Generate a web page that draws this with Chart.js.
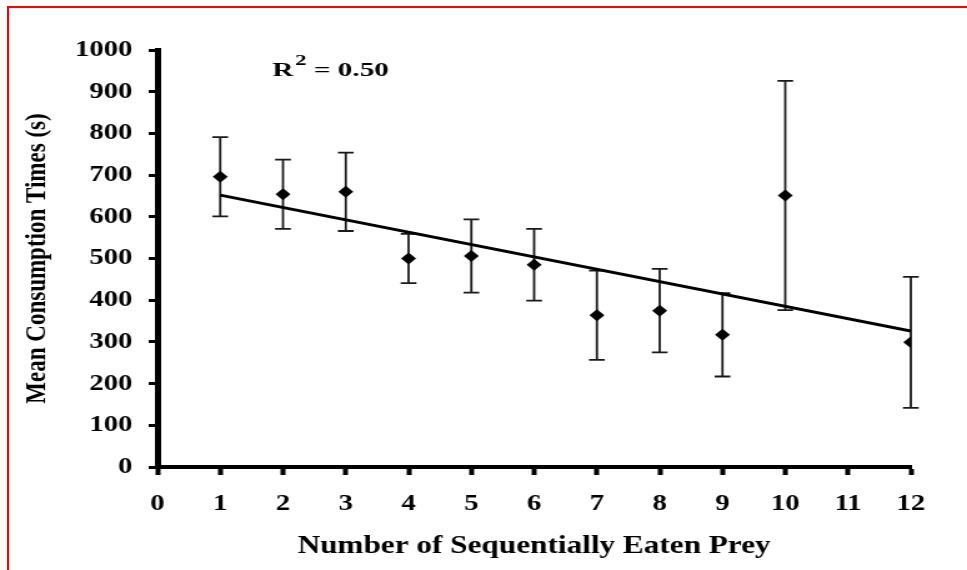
<!DOCTYPE html>
<html>
<head>
<meta charset="utf-8">
<script src="https://cdn.jsdelivr.net/npm/chart.js@4.4.1/dist/chart.umd.min.js"></script>
<style>
  html, body { margin: 0; padding: 0; background: #fff; overflow: hidden; }
  /* the source figure is stretched sideways, so the canvas is too */
  #wrap { position: absolute; left: 0; top: 0; width: 774px; height: 570px; transform-origin: 0 0; transform: scaleX(1.2494); }
  #frame { position: absolute; left: 7px; top: 6px; width: 1000px; height: 600px; border-left: 2px solid #ff0000; border-top: 2px solid #ff0000; pointer-events: none; z-index: 2; }
</style>
</head>
<body>
<div id="wrap"><canvas id="chart" width="774" height="570"></canvas></div>
<div id="frame"></div>
<script>
  // prey number (x), mean consumption time and error half-length (s)
  const preyNumber = [1, 2, 3, 4, 5, 6, 7, 8, 9, 10, 12];
  const meanTime   = [696, 654, 660, 500, 506, 485, 364, 375, 317, 651, 299];
  const errTime    = [95, 83, 94, 59, 88, 86, 107, 100, 100, 275, 157];

  // fitted regression line, end points
  const trendX = [1, 12];
  const trendY = [652, 326];
  const rSquared = '0.50';

  const xTicks = [0, 1, 2, 3, 4, 5, 6, 7, 8, 9, 10, 11, 12];
  const yTicks = [0, 100, 200, 300, 400, 500, 600, 700, 800, 900, 1000];

  const serif = '"Liberation Serif", "Times New Roman", Times, serif';

  const errorBars = {
    id: 'errorBars',
    beforeDatasetsDraw(chart) {
      const { ctx, scales: { x, y } } = chart;
      const cap = 6.3;
      ctx.save();
      ctx.strokeStyle = '#1a1a1a';
      ctx.lineWidth = 1.8;
      preyNumber.forEach((n, i) => {
        const px = x.getPixelForValue(n);
        const top = y.getPixelForValue(meanTime[i] + errTime[i]);
        const bot = y.getPixelForValue(meanTime[i] - errTime[i]);
        ctx.beginPath();
        ctx.moveTo(px, top); ctx.lineTo(px, bot);
        ctx.moveTo(px - cap, top); ctx.lineTo(px + cap, top);
        ctx.moveTo(px - cap, bot); ctx.lineTo(px + cap, bot);
        ctx.stroke();
      });
      ctx.restore();
    }
  };

  const r2Label = {
    id: 'r2Label',
    afterDraw(chart) {
      const { ctx, chartArea } = chart;
      ctx.save();
      ctx.translate(chartArea.left + 92, chartArea.top + 26);
      ctx.scale(1.3, 1);
      ctx.fillStyle = '#000';
      ctx.textAlign = 'left';
      ctx.textBaseline = 'alphabetic';
      ctx.font = 'bold 18px ' + serif;
      ctx.fillText('R', 0, 0);
      let w = ctx.measureText('R').width + 1;
      ctx.font = 'bold 14px ' + serif;
      ctx.fillText('2', w, -11);
      w += ctx.measureText('2').width;
      ctx.font = 'bold 18px ' + serif;
      ctx.fillText(' = ' + rSquared, w, 0);
      ctx.restore();
    }
  };

  const plain = v => String(v);

  new Chart(document.getElementById('chart'), {
    type: 'scatter',
    data: {
      datasets: [
        {
          label: 'Mean',
          data: preyNumber.map((n, i) => ({ x: n, y: meanTime[i] })),
          pointStyle: 'rectRot',
          pointRadius: 6,
          pointHoverRadius: 6,
          backgroundColor: '#000',
          borderColor: '#000',
          borderWidth: 0
        },
        {
          type: 'line',
          label: 'Trend',
          data: trendX.map((n, i) => ({ x: n, y: trendY[i] })),
          borderColor: '#000',
          borderWidth: 3,
          pointRadius: 0,
          fill: false,
          tension: 0
        }
      ]
    },
    options: {
      responsive: false,
      animation: false,
      devicePixelRatio: 1,
      layout: { padding: { left: 0, top: 50, right: 45, bottom: 5 } },
      plugins: { legend: { display: false }, tooltip: { enabled: false } },
      scales: {
        x: {
          type: 'linear', min: 0, max: 12,
          afterBuildTicks: s => { s.ticks = xTicks.map(v => ({ value: v })); },
          afterFit: s => { s.height = 98; },
          border: { display: true, color: '#000', width: 4 },
          grid: { drawOnChartArea: false, drawTicks: true, tickLength: 8, tickWidth: 4, tickColor: '#000' },
          ticks: { color: '#000', padding: 15, autoSkip: false, maxRotation: 0, callback: plain,
                   font: { family: serif, size: 23, weight: 'bold' } },
          title: { display: true, text: 'Number of Sequentially Eaten Prey', color: '#000', padding: { top: 0, bottom: 3 },
                   font: { family: serif, size: 25, weight: 'bold' } }
        },
        y: {
          type: 'linear', min: 0, max: 1000,
          afterBuildTicks: s => { s.ticks = yTicks.map(v => ({ value: v })); },
          afterFit: s => { s.width = 126; },
          border: { display: true, color: '#000', width: 5 },
          grid: { drawOnChartArea: false, drawTicks: true, tickLength: 7, tickWidth: 3, tickColor: '#000' },
          ticks: { color: '#000', padding: 13, autoSkip: false, callback: plain,
                   font: { family: serif, size: 23, weight: 'bold' } },
          title: { display: true, text: 'Mean Consumption Times (s)', color: '#000', padding: { top: 16, bottom: 0 },
                   font: { family: serif, size: 23, weight: 'bold' } }
        }
      }
    },
    plugins: [errorBars, r2Label]
  });
</script>
</body>
</html>
